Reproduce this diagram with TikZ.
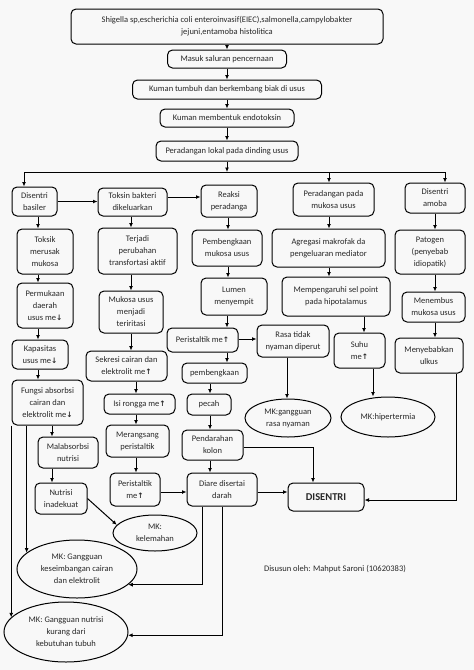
\documentclass[tikz,border=0pt]{standalone}
\usepackage{fontspec}
\setmainfont{Carlito}
\newfontfamily\arrfont{DejaVu Sans}
\usetikzlibrary{arrows.meta,shapes.geometric}
\newcommand{\mup}{{\arrfont\bfseries\fontsize{7.5}{8}\selectfont ↑}}
\newcommand{\mdn}{{\arrfont\bfseries\fontsize{7.5}{8}\selectfont ↓}}
\definecolor{bg}{RGB}{248,248,248}
\definecolor{ink}{RGB}{40,40,40}
\tikzset{
  box/.style={draw=black, rounded corners=5pt, align=center, inner sep=1pt, text=ink,
    font=\fontsize{8.5}{12}\selectfont, line width=1pt},
  ell/.style={draw=black, ellipse, align=center, inner sep=0pt, text=ink,
    font=\fontsize{8.5}{12}\selectfont, line width=1pt},
  arr/.style={-{Latex[length=4.5pt,width=4pt]}, line width=1pt},
  ln/.style={line width=1pt}
}
\newcommand{\varr}[3]{\draw[arr] ([xshift=#3pt]#1.south) -- ([xshift=#3pt]#1.south |- #2.north);}
\begin{document}
\begin{tikzpicture}[x=1pt,y=-1pt]
\path[use as bounding box, fill=bg] (0,0) rectangle (474,670);
% top chain
\node[box, minimum width=312pt, minimum height=35pt] (top) at (227,26.5) {Shigella sp,escherichia coli enteroinvasif(EIEC),salmonella,campylobakter\\jejuni,entamoba histolitica};
\node[box, minimum width=119pt, minimum height=18pt] (masuk) at (227,59) {Masuk saluran pencernaan};
\node[box, minimum width=189pt, minimum height=19pt] (kum1) at (227,89.5) {Kuman tumbuh dan berkembang biak di usus};
\node[box, minimum width=134pt, minimum height=18pt] (kum2) at (227,118) {Kuman membentuk endotoksin};
\node[box, minimum width=142pt, minimum height=20pt] (lokal) at (227,151) {Peradangan lokal pada dinding usus};
\coordinate (busL) at (24,172);
\coordinate (busM) at (329,172);
\coordinate (busR) at (445,172);
% row of branches
\node[box, minimum width=45pt, minimum height=29pt] (db) at (34.5,201.5) {Disentri\\basiler};
\node[box, minimum width=69pt, minimum height=28pt] (tb) at (132.5,202) {Toksin bakteri\\dikeluarkan};
\node[box, minimum width=56pt, minimum height=32pt] (rp) at (229,201) {Reaksi\\peradanga};
\node[box, minimum width=81pt, minimum height=33pt] (pm) at (333.5,199.5) {Peradangan pada\\mukosa usus};
\node[box, minimum width=60pt, minimum height=30pt] (da) at (435,198) {Disentri\\amoba};
% column 1
\node[box, minimum width=56pt, minimum height=45pt] (tm) at (45,251.5) {Toksik\\merusak\\mukosa};
\node[box, minimum width=56pt, minimum height=45pt] (pd) at (45,305.5) {Permukaan\\daerah\\usus me\mdn};
\node[box, minimum width=56pt, minimum height=29pt] (kap) at (40,354.5) {Kapasitas\\usus me\mdn};
\node[box, minimum width=71pt, minimum height=45pt] (fa) at (47.5,402.5) {Fungsi absorbsi\\cairan dan\\elektrolit me\mdn};
\node[box, minimum width=60pt, minimum height=31pt] (mal) at (68,452.5) {Malabsorbsi\\nutrisi};
\node[box, minimum width=52pt, minimum height=31pt] (ni) at (61,498.5) {Nutrisi\\inadekuat};
\node[ell, minimum width=84pt, minimum height=36pt] (kel) at (155,533) {MK:\\kelemahan};
\node[ell, minimum width=120pt, minimum height=58pt] (kes) at (77,569) {MK: Gangguan\\keseimbangan cairan\\dan elektrolit};
\node[ell, minimum width=124pt, minimum height=60pt] (nut) at (66,632) {MK: Gangguan nutrisi\\kurang dari\\kebutuhan tubuh};
% column 2
\node[box, minimum width=79pt, minimum height=46pt] (tp) at (137.5,251) {Terjadi\\perubahan\\transfortasi aktif};
\node[box, minimum width=64pt, minimum height=42pt] (mu) at (131,312) {Mukosa usus\\menjadi\\teriritasi};
\node[box, minimum width=81pt, minimum height=30pt] (se) at (126.5,366) {Sekresi cairan dan\\elektrolit me\mup};
\node[box, minimum width=71pt, minimum height=20pt] (ir) at (139.5,404) {Isi rongga me\mup};
\node[box, minimum width=63pt, minimum height=32pt] (mp) at (137.5,441) {Merangsang\\peristaltik};
\node[box, minimum width=50pt, minimum height=33pt] (pe2) at (135,489.5) {Peristaltik\\me\mup};
% column 3
\node[box, minimum width=70pt, minimum height=36pt] (pk) at (227,248) {Pembengkaan\\mukosa usus};
\node[box, minimum width=66pt, minimum height=37pt] (lm) at (234,296.5) {Lumen\\menyempit};
\node[box, minimum width=71pt, minimum height=24pt] (pe1) at (202.5,340) {Peristaltik me\mup};
\node[box, minimum width=72pt, minimum height=32pt] (rt) at (293,341) {Rasa tidak\\nyaman diperut};
\node[box, minimum width=65pt, minimum height=20pt] (pb) at (214.5,373) {pembengkaan};
\node[box, minimum width=44pt, minimum height=21pt] (pc) at (209,404.5) {pecah};
\node[box, minimum width=61pt, minimum height=30pt] (pk2) at (212.5,445) {Pendarahan\\kolon};
\node[box, minimum width=70pt, minimum height=33pt] (dd) at (222,489.5) {Diare disertai\\darah};
\node[box, minimum width=76pt, minimum height=28pt, font=\fontsize{10.5}{12}\selectfont\bfseries] (dis) at (326,497) {DISENTRI};
\node[ell, minimum width=86pt, minimum height=38pt] (mkr) at (288,418) {MK:gangguan\\rasa nyaman};
% column 4
\node[box, minimum width=113pt, minimum height=38pt] (ag) at (328.5,248) {Agregasi makrofak da\\pengeluaran mediator};
\node[box, minimum width=108pt, minimum height=39pt] (mh) at (336,296.5) {Mempengaruhi sel point\\pada hipotalamus};
\node[box, minimum width=51pt, minimum height=35pt] (su) at (359.5,350.5) {Suhu\\me\mup};
\node[ell, minimum width=94pt, minimum height=40pt] (mkh) at (388,417) {MK:hipertermia};
% column 5
\node[box, minimum width=70pt, minimum height=44pt] (pa) at (430,252) {Patogen\\(penyebab\\idiopatik)};
\node[box, minimum width=63pt, minimum height=30pt] (mn) at (433.5,307) {Menembus\\mukosa usus};
\node[box, minimum width=68pt, minimum height=35pt] (ul) at (429,355.5) {Menyebabkan\\ulkus};
% credit
\node[text=ink, font=\fontsize{8.5}{12}\selectfont] (cred) at (335,569) {Disusun oleh: Mahput Saroni (10620383)};
% connectors: top chain
\varr{top}{masuk}{0}
\varr{masuk}{kum1}{0}
\varr{kum1}{kum2}{0}
\varr{kum2}{lokal}{0}
\draw[arr] (lokal.south) -- (lokal.south |- busL);
\draw[ln] (busL) -- (busR);
\draw[arr] (busL) -- (busL |- db.north);
\draw[arr] (busM) -- (busM |- pm.north);
\draw[arr] (busR) -- (busR |- da.north);
\draw[arr] (db.east) -- (db.east -| tb.west);
\draw[arr] ([yshift=5pt]tb.east) -- ([yshift=5pt]tb.east -| rp.west);
% column 1
\varr{db}{tm}{3.5}
\varr{tm}{pd}{-7}
\varr{pd}{kap}{-7}
\varr{kap}{fa}{-2}
\varr{fa}{mal}{4.5}
\varr{mal}{ni}{-16}
\draw[arr] (kes.162 |- fa.south) -- (kes.162);
\draw[arr] (nut.165 |- fa.south) -- (nut.165);
\draw[arr] (ni.east) -- (kel.168);
% column 2
\varr{tb}{tp}{-1.5}
\varr{tp}{mu}{-6.5}
\varr{mu}{se}{0}
\varr{se}{ir}{9.5}
\varr{ir}{mp}{-3.5}
\varr{mp}{pe2}{-1.5}
\draw[arr] ([yshift=-2.5pt]pe2.east) -- ([yshift=-2.5pt]pe2.east -| dd.west);
% column 3
\varr{rp}{pk}{-1}
\varr{pk}{lm}{1}
\varr{lm}{pe1}{-7}
\varr{pe1}{pb}{24.5}
\draw[arr] ([yshift=1pt]pe1.east) -- ([yshift=1pt]pe1.east -| rt.west);
\varr{rt}{mkr}{-6}
\varr{pb}{pc}{-4.5}
\varr{pc}{pk2}{1}
\varr{pk2}{dd}{-2.5}
\draw[arr] ([yshift=-2pt]pk2.east) -| ([xshift=-13pt]dis.north);
\draw[arr] ([yshift=-2.5pt]dd.east) -- ([yshift=-2.5pt]dd.east -| dis.west);
\draw[arr] ([xshift=-20pt]dd.south) |- (kes.-17);
\draw[arr] (dd.south) |- (nut.-3);
% column 4
\varr{pm}{ag}{-4.5}
\varr{ag}{mh}{0.5}
\varr{mh}{su}{28}
\varr{su}{mkh}{13.5}
% column 5
\varr{da}{pa}{0}
\varr{pa}{mn}{5}
\varr{mn}{ul}{1.5}
\draw[arr] ([xshift=27pt]ul.south) |- ([yshift=-3pt]dis.east);
\end{tikzpicture}
\end{document}
